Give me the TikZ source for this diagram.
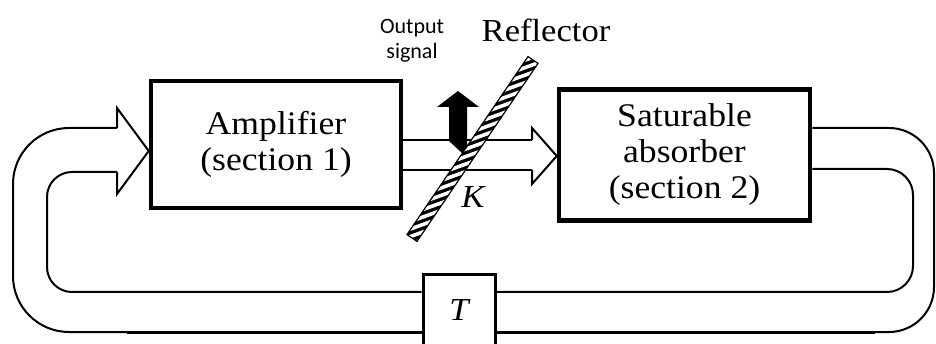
\documentclass[tikz,border=0pt]{standalone}
\usepackage{fontspec}
\setmainfont{Liberation Serif}[FakeStretch=1.08]
\newfontfamily\calibrifont{Carlito}
\usetikzlibrary{calc}
\begin{document}
\begin{tikzpicture}[x=1pt,y=-1pt,
  block/.style={draw, line width=4.5pt, inner sep=0pt, align=center,
    font=\fontsize{33}{36}\selectfont},
  delaybox/.style={draw, line width=3pt, inner sep=0pt, fill=white,
    font=\fontsize{32}{36}\selectfont\itshape},
  pipe/.style={line width=2pt},
  headline/.style={line width=2pt, line join=miter},
  serlabel/.style={font=\fontsize{32}{36}\selectfont, inner sep=0pt},
  smalllabel/.style={font=\calibrifont\fontsize{22}{25}\selectfont, align=center, inner sep=0pt}]
\useasboundingbox (0,0) rectangle (936,344);
\fill[white] (0,0) rectangle (936,344);

% levels used by the pipes
\coordinate (yA) at (0,128);
\coordinate (yB) at (0,172);
\coordinate (yC) at (0,292);
\coordinate (yD) at (0,332);
\coordinate (yE) at (0,169);
\coordinate (yU) at (0,140);
\coordinate (yL) at (0,170);
\coordinate (tipL) at (0,151);
\coordinate (tipM) at (0,156);

% blocks
\node[block, minimum width=250, minimum height=127] (amp) at (276,144.5)
  {Amplifier\\(section 1)};
\node[block, minimum width=251, minimum height=131] (sat) at (684.5,155)
  {Saturable\\absorber\\(section 2)};
\node[delaybox, minimum width=72, minimum height=72] (tbox) at (459,311)
  {\raisebox{2pt}{T}};

% left feedback pipe
\draw[pipe, rounded corners=56] (117,128) -- (13,128) -- (13,332) -- (tbox.west |- yD);
\draw[pipe, rounded corners=25] (117,172) -- (47,172) -- (47,292) -- (tbox.west |- yC);
\draw[headline] (117,128) -- (117,108) -- (amp.west |- tipL) -- (117,194) -- (117,172);
\draw[line width=3pt] (127,332) -- (tbox.west |- yD);

% right feedback pipe
\draw[pipe, rounded corners=45] (sat.east |- yA) -- (934,128) -- (934,332) -- (tbox.east |- yD);
\draw[pipe, rounded corners=26] (sat.east |- yE) -- (913,169) -- (913,292) -- (tbox.east |- yC);
\draw[line width=3pt] (875,332) -- (tbox.east |- yD);

% middle pipe
\draw[pipe] (amp.east |- yU) -- (532,140);
\draw[pipe] (amp.east |- yL) -- (532,170);
\draw[headline] (532,140) -- (532,128) -- (sat.west |- tipM) -- (532,184) -- (532,170);

% output signal arrow
\fill[black] (449,141) -- (449,107) -- (437,107) -- (458,91) -- (479,107) -- (467,107)
  -- (467,150) -- (463,154) -- cycle;

% reflector
\coordinate (P1) at (417,241.4);
\coordinate (P2) at (407,234.6);
\coordinate (P3) at (528,56.6);
\coordinate (P4) at (538,63.4);
\begin{scope}
  \clip (P1) -- (P2) -- (P3) -- (P4) -- cycle;
  \fill[black] (380,40) rectangle (560,260);
  \foreach \i in {0,...,36}
    \draw[white, line width=3.6pt] (380,{45+\i*7.5}) -- ++(180,-65);
\end{scope}
\draw[line width=1.2pt, line join=miter] (P1) -- (P2) -- (P3) -- (P4) -- cycle;

% labels
\node[serlabel, anchor=base] (refl) at (546,42) {Reflector};
\node[serlabel, anchor=base] (klab) at (473,208) {\itshape K};
\node[smalllabel] (outsig) at (412,41) {Output\\signal};
\end{tikzpicture}
\end{document}
